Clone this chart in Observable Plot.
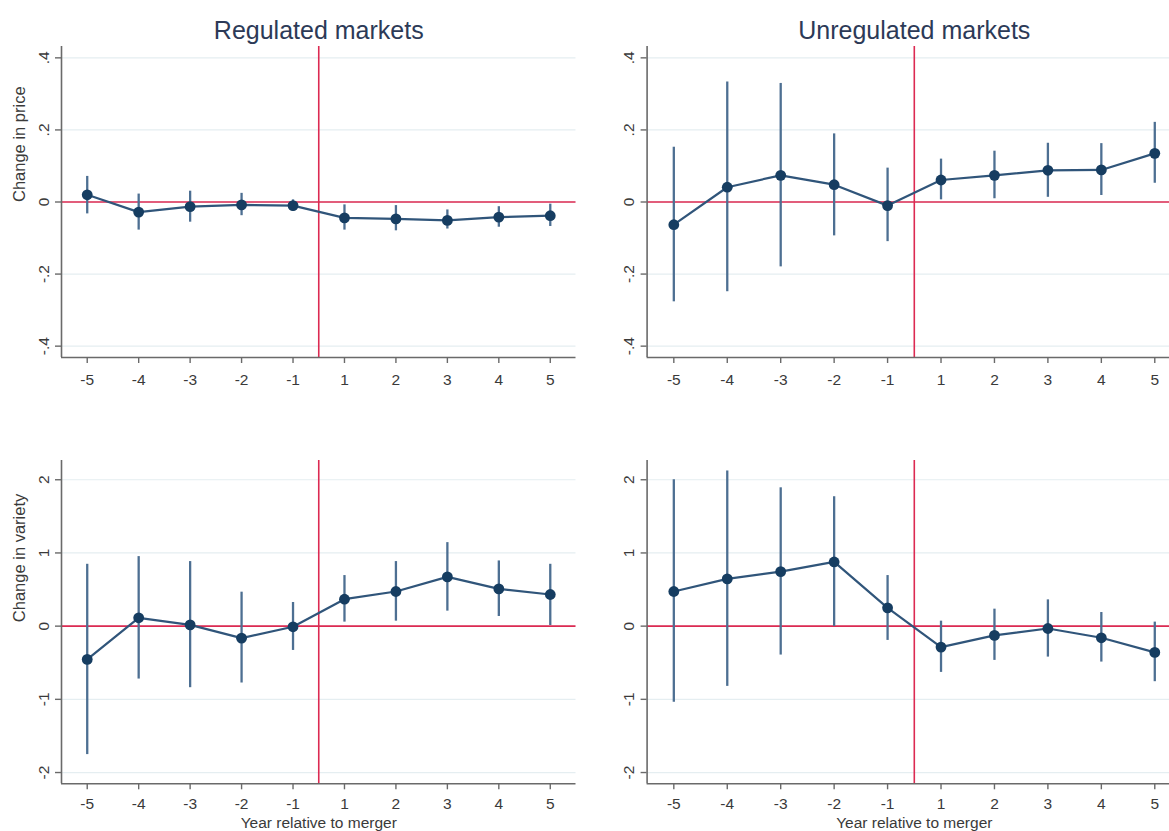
<!DOCTYPE html>
<html><head><meta charset="utf-8">
<script src="https://cdn.jsdelivr.net/npm/d3@7"></script>
<script src="https://cdn.jsdelivr.net/npm/@observablehq/plot@0.6"></script>
<style>
html,body{margin:0;padding:0;background:#fff;}
#root{position:relative;width:1169px;height:831px;overflow:hidden;background:#fff;}
#root svg{position:absolute;}
</style></head><body><div id="root"></div>
<script>
// ---------- data ----------
const years = [-5,-4,-3,-2,-1,1,2,3,4,5];
const xTickLabels = ["-5","-4","-3","-2","-1","1","2","3","4","5"];
const mergerPos = 4.5; // between -1 and 1
const priceTicks = [-0.4,-0.2,0,0.2,0.4];
const priceTickLabels = ["-.4","-.2","0",".2",".4"];
const varietyTicks = [-2,-1,0,1,2];
const varietyTickLabels = ["-2","-1","0","1","2"];
const titles = ["Regulated markets","Unregulated markets"];
const yTitles = ["Change in price","Change in variety"];
const xTitle = "Year relative to merger";

const priceRegEst = [0.020,-0.028,-0.013,-0.008,-0.010,-0.044,-0.047,-0.051,-0.042,-0.038];
const priceRegLo  = [-0.033,-0.078,-0.056,-0.038,-0.026,-0.078,-0.080,-0.075,-0.070,-0.068];
const priceRegHi  = [0.071,0.022,0.030,0.024,0.006,-0.008,-0.010,-0.022,-0.013,-0.006];

const priceUnregEst = [-0.063,0.041,0.074,0.048,-0.010,0.061,0.074,0.088,0.089,0.135];
const priceUnregLo  = [-0.277,-0.249,-0.180,-0.094,-0.110,0.006,0.009,0.013,0.018,0.052];
const priceUnregHi  = [0.152,0.333,0.329,0.189,0.094,0.119,0.141,0.163,0.162,0.221];

const varRegEst = [-0.455,0.114,0.018,-0.164,-0.009,0.368,0.473,0.673,0.509,0.432];
const varRegLo  = [-1.755,-0.723,-0.841,-0.777,-0.332,0.055,0.068,0.205,0.132,0.009];
const varRegHi  = [0.845,0.950,0.882,0.464,0.323,0.691,0.882,1.141,0.891,0.845];

const varUnregEst = [0.473,0.645,0.745,0.877,0.250,-0.286,-0.127,-0.032,-0.159,-0.359];
const varUnregLo  = [-1.040,-0.823,-0.395,-0.005,-0.195,-0.632,-0.468,-0.423,-0.491,-0.759];
const varUnregHi  = [2.000,2.120,1.890,1.768,0.691,0.068,0.232,0.359,0.186,0.055];

// ---------- style ----------
const RED = "#dc2a52", CI = "#4d6f92", LINE = "#30557a", DOT = "#163d61";
const AXIS = "#6a6a6a", GRID = "#e5eef1", TXT = "#3a3a3a", TITLE = "#2c3a57";
const FONT = "'Liberation Sans', Arial, sans-serif";

const root = document.getElementById("root");
const xIdx = years.map((_, i) => i);
const xDomain = [-0.5, 9.5];

function panel(o) {
  const rows = years.map((y, i) => ({i, est: o.est[i], lo: o.lo[i], hi: o.hi[i]}));
  const marks = [
    Plot.gridY(o.ticks, {stroke: GRID, strokeOpacity: 1, strokeWidth: 1.2}),
    Plot.ruleY([0], {stroke: RED, strokeWidth: 1.6}),
    Plot.ruleX([mergerPos], {stroke: RED, strokeWidth: 1.6}),
    Plot.ruleX(rows, {x: "i", y1: "lo", y2: "hi", stroke: CI, strokeWidth: 2.3}),
    Plot.line(rows, {x: "i", y: "est", stroke: LINE, strokeWidth: 2.2}),
    Plot.dot(rows, {x: "i", y: "est", r: 5.4, fill: DOT, stroke: "none"}),
    Plot.ruleX([xDomain[0]], {stroke: AXIS, strokeWidth: 1.6}),
    Plot.ruleY([o.yDomain[0]], {stroke: AXIS, strokeWidth: 1.6}),
    Plot.axisY(o.ticks, {tickFormat: d => o.tickLabels[o.ticks.indexOf(d)], tickRotate: -90,
      tickSize: 6, tickPadding: 7, fontSize: 15.5, fill: TXT, stroke: AXIS, strokeWidth: 1.4, label: null}),
    Plot.axisX(xIdx, {tickFormat: d => xTickLabels[d], tickSize: 6, tickPadding: o.xPad,
      fontSize: 15.5, fill: TXT, stroke: AXIS, strokeWidth: 1.4, label: null})
  ];
  if (o.title) marks.push(Plot.text([o.title], {frameAnchor: "top", dy: -8, lineAnchor: "bottom", fontSize: 25, fill: TITLE}));
  if (o.yTitle) marks.push(Plot.text([o.yTitle], {frameAnchor: "left", dx: -42, rotate: -90, lineAnchor: "middle", fontSize: 16.5, fill: TXT}));
  if (o.xTitle) marks.push(Plot.text([o.xTitle], {frameAnchor: "bottom", dy: 44.2, lineAnchor: "bottom", fontSize: 15.5, fill: TXT}));
  const svg = Plot.plot({
    width: o.width, height: o.height,
    marginLeft: o.mL, marginRight: o.mR, marginTop: o.mT, marginBottom: o.mB,
    x: {type: "linear", domain: xDomain, axis: null},
    y: {type: "linear", domain: o.yDomain, axis: null},
    style: {fontFamily: FONT, background: "transparent", overflow: "visible"},
    marks
  });
  svg.style.left = o.left + "px";
  svg.style.top = o.top + "px";
  root.appendChild(svg);
}

const priceDomain = [-0.4315, 0.4315];
const varDomain = [-2.154, 2.263];
const L = {left: 0, width: 590, mL: 61, mR: 14.5};
const R = {left: 585, width: 611, mL: 61.6, mR: 15};
const T = {top: 0, height: 400, mT: 46, mB: 43, xPad: 10};
const B = {top: 420, height: 411, mT: 40, mB: 47.7, xPad: 8};

panel({...L, ...T, est: priceRegEst, lo: priceRegLo, hi: priceRegHi, ticks: priceTicks, tickLabels: priceTickLabels,
  yDomain: priceDomain, title: titles[0], yTitle: yTitles[0]});
panel({...R, ...T, est: priceUnregEst, lo: priceUnregLo, hi: priceUnregHi, ticks: priceTicks, tickLabels: priceTickLabels,
  yDomain: priceDomain, title: titles[1]});
panel({...L, ...B, est: varRegEst, lo: varRegLo, hi: varRegHi, ticks: varietyTicks, tickLabels: varietyTickLabels,
  yDomain: varDomain, yTitle: yTitles[1], xTitle: xTitle});
panel({...R, ...B, est: varUnregEst, lo: varUnregLo, hi: varUnregHi, ticks: varietyTicks, tickLabels: varietyTickLabels,
  yDomain: varDomain, xTitle: xTitle});
</script></body></html>
